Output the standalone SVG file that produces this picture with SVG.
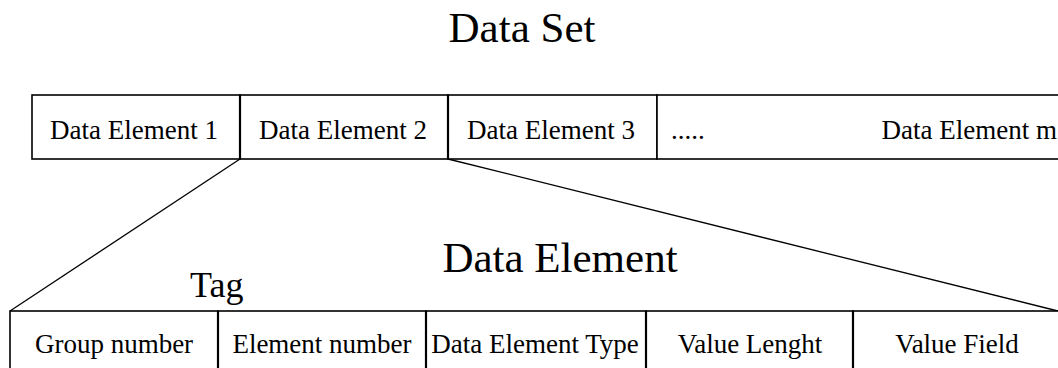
<svg xmlns="http://www.w3.org/2000/svg" width="1058" height="368" viewBox="0 0 1058 368">
<style>
.cell{fill:#fff;stroke:#000;stroke-width:1.6}
.div{stroke:#000;stroke-width:2.2}
.t{font-family:"Liberation Serif","Times New Roman",serif;font-size:27px;fill:#000;text-anchor:middle}
.title{font-family:"Liberation Serif","Times New Roman",serif;font-size:43px;fill:#000;text-anchor:middle}
.conn{stroke:#000;stroke-width:1.3;fill:none}
</style>
<rect width="1058" height="368" fill="#fff"/>
<text class="title" x="522" y="42">Data Set</text>
<g id="connectors">
<line class="conn" x1="240" y1="159" x2="10" y2="311"/>
<line class="conn" x1="448" y1="159" x2="1058" y2="311"/>
</g>
<g id="dataset">
<g id="de1"><rect class="cell" x="32" y="95" width="208" height="64"/><text class="t" x="134" y="139">Data Element 1</text></g>
<g id="de2"><rect class="cell" x="240" y="95" width="208" height="64"/><text class="t" x="343" y="139">Data Element 2</text></g>
<g id="de3"><rect class="cell" x="448" y="95" width="209" height="64"/><text class="t" x="551" y="139">Data Element 3</text></g>
<g id="dem"><rect class="cell" x="657" y="95" width="420" height="64"/><text class="t" x="671" y="139" style="text-anchor:start">.....</text><text class="t" x="1057" y="139" style="text-anchor:end">Data Element m</text></g>
<line class="div" x1="240" y1="95" x2="240" y2="159"/>
<line class="div" x1="448" y1="95" x2="448" y2="159"/>
</g>
<text class="title" x="560" y="272">Data Element</text>
<text class="title" x="190" y="297" style="text-anchor:start;font-size:36px">Tag</text>
<g id="dataelement">
<g id="group"><rect class="cell" x="10" y="311" width="208" height="70"/><text class="t" x="114" y="353">Group number</text></g>
<g id="element"><rect class="cell" x="218" y="311" width="208" height="70"/><text class="t" x="322" y="353">Element number</text></g>
<g id="type"><rect class="cell" x="426" y="311" width="220" height="70"/><text class="t" x="535" y="353">Data Element Type</text></g>
<g id="length"><rect class="cell" x="646" y="311" width="207" height="70"/><text class="t" x="750" y="353">Value Lenght</text></g>
<g id="field"><rect class="cell" x="853" y="311" width="220" height="70"/><text class="t" x="957" y="353">Value Field</text></g>
<line class="div" x1="218" y1="311" x2="218" y2="368"/>
<line class="div" x1="426" y1="311" x2="426" y2="368"/>
<line class="div" x1="646" y1="311" x2="646" y2="368"/>
<line class="div" x1="853" y1="311" x2="853" y2="368"/>
</g>
</svg>
